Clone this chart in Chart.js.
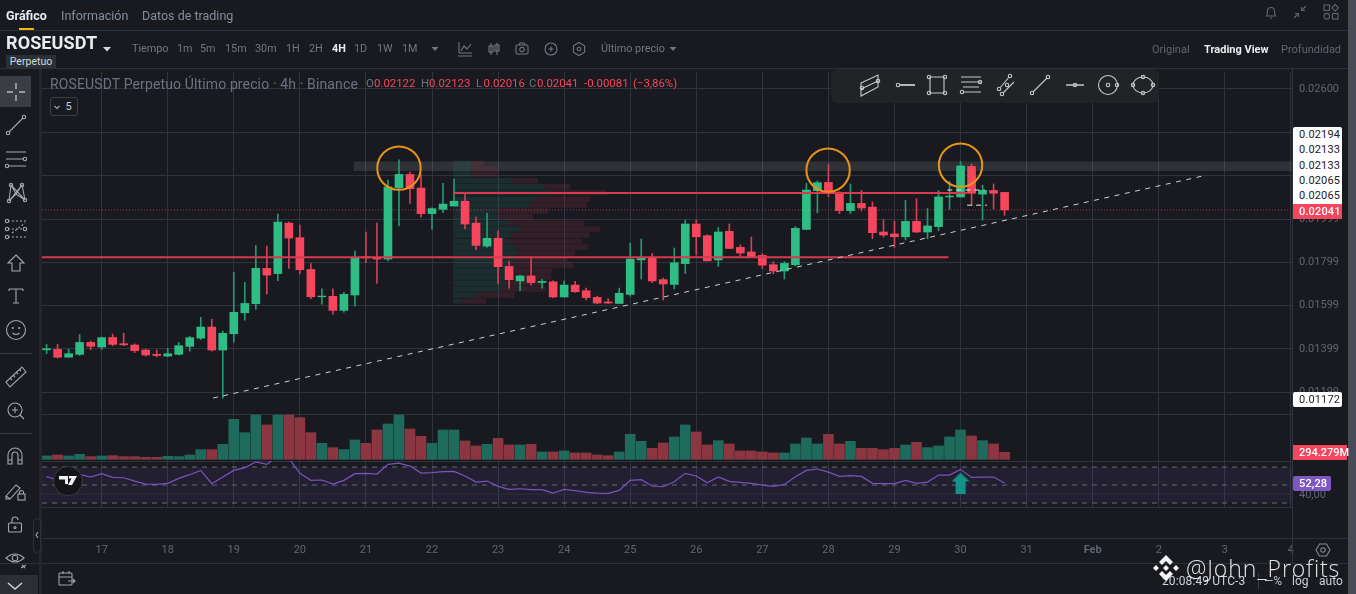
<!DOCTYPE html>
<html lang="es">
<head>
<meta charset="utf-8">
<title>ROSEUSDT</title>
<script src="https://cdn.jsdelivr.net/npm/chart.js@4"></script>
<style>
html,body{margin:0;padding:0;background:#181a20;overflow:hidden}
#page{position:relative;width:1356px;height:594px;background:#181a20;font-family:Roboto,sans-serif;overflow:hidden}
#c{position:absolute;left:0;top:0}
.t{position:absolute;white-space:nowrap;line-height:1;z-index:3}
.ln{position:absolute;background:#2b3139;z-index:2}
.box{position:absolute;z-index:4;font-size:11px;line-height:15.3px;padding-left:6px;box-sizing:border-box;white-space:nowrap;letter-spacing:.15px}
svg.i{position:absolute;z-index:5;fill:none;stroke:#a4a7ac;stroke-width:1.1;overflow:visible}
</style>
</head>
<body>
<div id="page">
<canvas id="c" width="1356" height="594"></canvas>
<div id="ui"></div>
</div>
<script>
// ---------- data ----------
const opens=[0.01395,0.01397,0.01361,0.01374,0.01429,0.01408,0.01452,0.01423,0.01417,0.01394,0.01374,0.01366,0.01374,0.01411,0.01449,0.01500,0.01394,0.01469,0.01566,0.01608,0.01771,0.01747,0.01980,0.01913,0.01766,0.01640,0.01642,0.01577,0.01648,
0.01825,0.01822,0.01814,0.02144,0.02205,0.02142,0.02024,0.02044,0.02059,0.02081,0.01980,0.01874,0.01910,0.01780,0.01713,0.01736,0.01706,0.01709,0.01639,0.01694,0.01668,0.01637,0.01616,0.01609,0.01651,0.01810,0.01820,0.01719,0.01697,0.01793,
0.01976,0.01922,0.01810,0.01942,0.01868,0.01847,0.01831,0.01788,0.01759,0.01788,0.01951,0.02130,0.02168,0.02118,0.02038,0.02071,0.02054,0.01939,0.01930,0.01917,0.01988,0.01939,0.01964,0.02101,0.02101,0.02242,0.02114,0.02131,0.02122];
const closes=[0.01400,0.01361,0.01377,0.01429,0.01411,0.01451,0.01420,0.01418,0.01391,0.01371,0.01369,0.01377,0.01414,0.01451,0.01500,0.01394,0.01471,0.01568,0.01609,0.01771,0.01740,0.01985,0.01911,0.01765,0.01640,0.01643,0.01577,0.01651,0.01819,
0.01819,0.01814,0.02147,0.02205,0.02139,0.02024,0.02047,0.02068,0.02081,0.01976,0.01877,0.01910,0.01779,0.01719,0.01736,0.01705,0.01711,0.01639,0.01694,0.01663,0.01636,0.01611,0.01611,0.01656,0.01814,0.01820,0.01713,0.01699,0.01797,0.01976,
0.01917,0.01806,0.01939,0.01863,0.01842,0.01823,0.01786,0.01759,0.01794,0.01956,0.02133,0.02167,0.02124,0.02038,0.02071,0.02050,0.01936,0.01925,0.01917,0.01988,0.01939,0.01967,0.02101,0.02105,0.02244,0.02118,0.02131,0.02118,0.02041];
const highs=[0.01420,0.01420,0.01398,0.01465,0.01435,0.01454,0.01468,0.01472,0.01422,0.01398,0.01394,0.01402,0.01429,0.01457,0.01545,0.01536,0.01482,0.01753,0.01706,0.01877,0.01874,0.02022,0.01985,0.01971,0.01793,0.01677,0.01677,0.01660,0.01851,
0.01939,0.01980,0.02179,0.02272,0.02216,0.02207,0.02051,0.02164,0.02184,0.02118,0.02008,0.02025,0.01944,0.01805,0.01740,0.01822,0.01720,0.01713,0.01713,0.01711,0.01680,0.01643,0.01631,0.01680,0.01888,0.01907,0.01840,0.01726,0.01865,0.01994,
0.01994,0.01927,0.01960,0.01976,0.01880,0.01916,0.01839,0.01802,0.01803,0.01964,0.02164,0.02175,0.02250,0.02125,0.02161,0.02131,0.02078,0.01997,0.01990,0.02085,0.02093,0.02048,0.02130,0.02173,0.02265,0.02253,0.02155,0.02161,0.02123];
const lows=[0.01377,0.01357,0.01361,0.01369,0.01395,0.01397,0.01414,0.01414,0.01382,0.01366,0.01362,0.01363,0.01371,0.01389,0.01442,0.01389,0.01172,0.01431,0.01532,0.01582,0.01653,0.01714,0.01771,0.01745,0.01631,0.01606,0.01560,0.01569,0.01597,
0.01797,0.01702,0.01806,0.01967,0.02071,0.02008,0.01951,0.02028,0.02059,0.01953,0.01856,0.01868,0.01699,0.01680,0.01668,0.01694,0.01680,0.01636,0.01639,0.01660,0.01625,0.01608,0.01608,0.01608,0.01643,0.01722,0.01705,0.01625,0.01676,0.01748,
0.01833,0.01805,0.01780,0.01863,0.01828,0.01822,0.01770,0.01746,0.01722,0.01782,0.01951,0.02027,0.02102,0.02024,0.02024,0.02037,0.01908,0.01916,0.01868,0.01902,0.01936,0.01908,0.01945,0.02045,0.02101,0.02061,0.01994,0.02045,0.02016];
const volumes=[140,182,140,210,112,140,154,112,112,84,84,126,112,182,406,406,630,1680,1120,1862,1442,1862,1862,1750,1120,672,490,406,812,672,1232,1484,1862,1274,966,672,1232,1232,770,560,630,882,602,602,630,308,308,350,266,266,182,154,308,1050,756,462,686,938,1442,1148,602,784,644,350,350,308,266,266,644,896,644,1050,644,756,462,462,406,462,602,714,490,560,938,1232,980,784,644,294.279];
const rsi=[59.3,55.6,55.6,61.9,58.9,62.6,58.5,58.1,54.4,51.1,50.7,51.9,57.4,61.5,66.3,51.5,58.9,66.3,69.3,75.6,73,81.5,79.6,63,55.2,55.6,51.1,55.2,62.6,63,62.2,73,74.4,71.1,63.3,63.7,64.8,65.2,60,53.3,54.4,48.5,45.2,45.9,44.8,44.8,41.1,45.2,43.7,41.9,41.1,40.7,44.1,55.2,55.9,48.9,48.1,53.7,63,60,52.6,58.9,54.1,53,51.9,50,48.5,50.7,59.3,66.3,67.8,64.4,59.6,60.4,59.6,51.9,51.5,51.5,55.2,51.9,53.3,61.1,61.1,67.4,58.5,58.9,58.9,52.28];
const dayLabels=['17','18','19','20','21','22','23','24','25','26','27','28','29','30','31','Feb','2','3','4'];
const dayIndex=[5,11,17,23,29,35,41,47,53,59,65,71,77,83,89,95,101,107,113];
const priceTicks=[0.026,0.02399,0.02199,0.01999,0.01799,0.01599,0.01399,0.01199];
const paneLines=[0.01094,0.00881];
const rsiLevels=[70,50,30];
const rsiMiddle=[40];
// volume profile rows
const vpPrices=[0.02256,0.02230,0.02204,0.02176,0.02148,0.02121,0.02091,0.02064,0.02036,0.02008,0.01980,0.01953,0.01925,0.01897,0.01870,0.01842,0.01814,0.01786,0.01759,0.01731,0.01703,0.01676,0.01648,0.01620];
const vpBuy=[1.67,1.67,1.67,5.30,8.17,8.78,7.42,6.96,4.09,4.09,5.0,6.06,5.30,5.09,5.51,5.75,5.75,5,5.6,5.6,4.84,4.39,2.06,0.85];
const vpSell=[1.21,2.42,2.42,2.42,2.48,5.15,5.06,5.21,4.54,3.18,6.96,7.33,7.11,6.66,6.78,5.33,4.69,5.96,3.42,3.33,3.48,4.03,3.51,2.18];
const vpStart=36.9;
// drawings
const lastPrice=0.02041;
const support=[{x:-0.42,y:0.01823},{x:81.9,y:0.01823}];
const resistance=[{x:36.9,y:0.02119},{x:83.6,y:0.02119}];
const trend=[{x:15.11,y:0.01172},{x:105.03,y:0.02198}];
const shortDashA=[{x:81.8,y:0.02133},{x:85.2,y:0.02133}];
const shortDashB=[{x:83.6,y:0.02063},{x:85.4,y:0.02063}];
const band=[{x:27.9,y:0.022425},{x:113.1,y:0.022425}];
const circles=[{x:32,y:0.02234},{x:70.97,y:0.02225},{x:83,y:0.02248}];
const arrowAt=[{x:83,y:52.2}];

// ---------- chart ----------
const UP='#2ebd85',DOWN='#f6465d',GRID='#2e343e';
const idx=opens.map((_,i)=>i);
const isUp=idx.map(i=>closes[i]>=opens[i]);
const X0=-0.418,X1=113.1;
function rows(widthOf,startOf){
  const out=[];
  vpPrices.forEach((p,k)=>{
    const a=startOf(k),b=a+widthOf[k];
    out.push({x:a,y:p},{x:b,y:p},{x:b,y:null});
  });
  return out;
}
const arrowCv=document.createElement('canvas');arrowCv.width=18;arrowCv.height=21;
(()=>{const g=arrowCv.getContext('2d');g.fillStyle='#149388';g.beginPath();
  g.moveTo(9,0);g.lineTo(18,9);g.lineTo(14,9);g.lineTo(14,21);g.lineTo(4,21);g.lineTo(4,9);g.lineTo(0,9);g.closePath();g.fill();})();

const hline=(data,color,w,dash,order,axis)=>({type:'line',data,borderColor:color,borderWidth:w,borderDash:dash||[],pointRadius:0,order,yAxisID:axis||'y',tension:0,fill:false});

new Chart(document.getElementById('c'),{
  type:'bar',
  data:{datasets:[
    {label:'Circles',type:'line',showLine:false,data:circles,pointRadius:21.7,pointBorderWidth:2,pointBorderColor:'#e8941a',pointBackgroundColor:'transparent',order:0,yAxisID:'y',clip:false},
    hline(shortDashA,'#e8e8e8',1,[5,4],1),
    hline(shortDashB,'#e8e8e8',1,[5,4],1),
    hline(trend,'#cfcfcf',1,[5,5.5],1),
    hline(support,'#d63a4e',2,null,2),
    hline(resistance,'#d63a4e',2,null,2),
    {label:'Bodies',data:idx.map(i=>({x:i,y:[opens[i],closes[i]]})),backgroundColor:idx.map(i=>isUp[i]?UP:DOWN),barThickness:8,grouped:false,order:3,yAxisID:'y',borderSkipped:false},
    {label:'Wicks',data:idx.map(i=>({x:i,y:[lows[i],highs[i]]})),backgroundColor:idx.map(i=>isUp[i]?'#249a6e':'#d2405a'),barThickness:1,grouped:false,order:4,yAxisID:'y',borderSkipped:false},
    hline([{x:X0,y:lastPrice},{x:X1,y:lastPrice}],'#a53446',1,[1,2],5),
    hline(rows(vpSell,k=>vpStart+vpBuy[k]),'rgba(150,50,65,0.22)',5.4,null,6),
    hline(rows(vpBuy,()=>vpStart),'rgba(40,125,110,0.2)',5.4,null,6),
    hline(band,'rgba(255,255,255,0.10)',9.4,null,6),
    {label:'Volume',data:idx.map(i=>({x:i,y:volumes[i]})),backgroundColor:idx.map(i=>isUp[i]?'#1e6a5d':'#8b3641'),barThickness:10,grouped:false,order:7,yAxisID:'yVol'},
    {label:'Arrow',type:'line',showLine:false,data:arrowAt,pointStyle:arrowCv,pointRadius:10,order:0,yAxisID:'yRsi'},
    {label:'RSI',type:'line',data:idx.map(i=>({x:i,y:rsi[i]})),borderColor:'#7b52be',borderWidth:1.2,pointRadius:0,tension:0,order:1,yAxisID:'yRsi',clip:{left:0,right:0,top:-389,bottom:0}},
    ...rsiLevels.map(v=>hline([{x:X0,y:v},{x:X1,y:v}],'#5d5f66',1.2,[5,5],8,'yRsi')),
    ...rsiMiddle.map(v=>hline([{x:X0,y:v},{x:X1,y:v}],'#33303c',1,null,8,'yRsi')),
    hline([{x:X0,y:50},{x:X1,y:50}],'rgba(126,87,194,0.10)',36,null,9,'yRsi')
  ]},
  options:{
    responsive:false,animation:false,events:[],devicePixelRatio:1,
    layout:{padding:{left:42,top:72,right:0,bottom:0}},
    plugins:{legend:{display:false},tooltip:{enabled:false},title:{display:false}},
    scales:{
      x:{type:'linear',offset:false,min:X0,max:X1,
        grid:{offset:false,color:GRID,drawTicks:false,lineWidth:1},border:{color:GRID},
        afterBuildTicks:s=>{s.ticks=dayIndex.map(v=>({value:v}));},
        afterFit:s=>{s.height=87;},
        ticks:{autoSkip:false,maxRotation:0,padding:37,color:'#5e6673',
          font:c=>({family:'Roboto',size:11,weight:(dayLabels[c.index]==='Feb')?'700':'400'}),
          callback:(v,i)=>dayLabels[i]}
      },
      y:{type:'linear',position:'right',min:0.00669,max:0.02678,
        grid:{color:GRID,drawTicks:false},border:{color:'#2f343d'},
        afterBuildTicks:s=>{s.ticks=priceTicks.concat(paneLines).map(v=>({value:v}));},
        afterFit:s=>{s.width=64;},
        ticks:{autoSkip:false,padding:7,color:'#5e6673',font:{family:'Roboto',size:11},
          callback:(v)=>priceTicks.includes(v)?v.toFixed(5):''}
      },
      yVol:{type:'linear',display:false,min:-2003,max:16267},
      yRsi:{type:'linear',display:false,min:25.6,max:508.9}
    }
  }
});

// ---------- interface chrome (real text) ----------
const ui=document.getElementById('ui');
function T(x,cy,s,size,color,extra){
  const d=document.createElement('div');d.className='t';d.textContent=s;
  d.style.cssText=`left:${x}px;top:${cy-size/2}px;font-size:${size}px;color:${color};${extra||''}`;
  ui.appendChild(d);return d;
}
function L(x,y,w,h,c){const d=document.createElement('div');d.className='ln';d.style.cssText=`left:${x}px;top:${y}px;width:${w}px;height:${h}px;${c?'background:'+c+';':''}`;ui.appendChild(d);}
function B(x,y,w,h,bg,z){const d=document.createElement('div');d.style.cssText=`position:absolute;left:${x}px;top:${y}px;width:${w}px;height:${h}px;background:${bg};z-index:${z||2}`;ui.appendChild(d);return d;}
function I(cx,cy,inner,attrs){
  const ns='http://www.w3.org/2000/svg';
  const s=document.createElementNS(ns,'svg');s.setAttribute('class','i');s.setAttribute('width','24');s.setAttribute('height','24');s.setAttribute('viewBox','-12 -12 24 24');
  s.style.left=(cx-12)+'px';s.style.top=(cy-12)+'px';if(attrs)s.style.cssText+=attrs;s.innerHTML=inner;ui.appendChild(s);
}
const WH='#eaecef';
L(0,30,1348,1);L(0,68,1348,1);L(42,538,1306,1);L(0,563,1348,1);L(1292,68,1,495,'#2f343d');
B(39,69,3,525,'#24262c');B(1348,0,8,594,'#474c57');
// top tabs
T(6,16,'Gráfico',12.5,WH,'font-weight:700');
T(61,16,'Información',12.5,'#848e9c');
T(142,16,'Datos de trading',12.5,'#848e9c');
B(19,28,15,2,'#f0b90b');
// symbol row
T(6,43,'ROSEUSDT',18,WH,'font-weight:700;letter-spacing:.1px');
I(107,49,'<path d="M-4-2h8l-4 4.4z" fill="#d5d8dc" stroke="none"/>');
const ivs=[['Tiempo',132],['1m',177],['5m',200],['15m',225],['30m',255],['1H',286],['2H',309],['4H',332],['1D',354],['1W',377],['1M',402]];
ivs.forEach(([s,x])=>T(x,49,s,10.8,s==='4H'?WH:'#6f7784',s==='4H'?'font-weight:700':''));
I(435,49,'<path d="M-3.5-2h7l-3.5 4z" fill="#6f7784" stroke="none"/>');
const st='stroke:#6f7784;';
I(465,49,'<path d="M-6-7v11M-6 4H7M-7 7H7M-4 2l3-5 3 3 4-5"/>',st);
I(494,49,'<path d="M-3-6v12M3-6v12"/><rect x="-5" y="-3" width="4" height="6"/><rect x="1" y="-4" width="4" height="6"/>',st);
I(522,49,'<rect x="-6" y="-4" width="12" height="9" rx="1.5"/><circle r="2.2" cy=".5"/><path d="M-3-4l1-2h4l1 2"/>',st);
I(551,49,'<circle r="6"/><path d="M-2.5 0h5M0-2.5v5"/>',st);
I(579,49,'<path d="M0-6.5l5.6 3.2v6.6L0 6.5l-5.6-3.2v-6.6z"/><circle r="1.8"/>',st);
T(601,49,'Último precio',10.8,'#6f7784');
I(673,49,'<path d="M-3.5-2h7l-3.5 4z" fill="#6f7784" stroke="none"/>');
T(1152,49,'Original',11,'#5e6673');
T(1204,49,'Trading View',11,WH,'font-weight:700');
T(1281,49,'Profundidad',11,'#5e6673');
// top right icons
const st2='stroke:#5f6570;';
I(1271,12,'<path d="M-4.5 4c1-1.5 1-3 1-5a3.5 3.5 0 0 1 7 0c0 2 0 3.5 1 5zM-1 6h2"/>',st2);
I(1300,12,'<path d="M-6 6L-1.5 1.5M-1.5 5V1.5H-5M6-6L1.5-1.5M1.5-5v3.5H5"/>',st2);
I(1331,12,'<rect x="-7" y="-7" width="5.5" height="5.5"/><rect x="1.5" y="1.5" width="5.5" height="5.5"/><circle cx="-4.2" cy="4.2" r="2.8"/><path d="M4.2-7.5l3.3 3.3-3.3 3.3-3.3-3.3z"/>',st2);
// Perpetuo tag
const tag=B(6,55,50,14,'#2b2f36',3);tag.textContent='Perpetuo';
tag.style.cssText+='color:#d5d8dc;font-size:10.5px;line-height:14px;text-align:center';
// chart legend
T(50,84,'ROSEUSDT Perpetuo Último precio · 4h · Binance',14,'#6b7280','letter-spacing:.13px');
[['O',366,'0.02122',374],['H',421,'0.02123',429],['L',476,'0.02016',483.5],['C',529,'0.02041',537]].forEach(([a,ax,b,bx])=>{
  T(ax,84,a,11.4,'#6b7280');T(bx,84,b,11.4,'#f6465d');
});
T(584,84,'-0.00081',11.4,'#f6465d');
T(633,84,'(−3,86%)',11.4,'#f6465d');
// fold box
const fold=document.createElement('div');fold.className='t';
fold.style.cssText='left:50px;top:97px;width:28px;height:19px;border:1px solid #3b3f46;border-radius:3px;box-sizing:border-box;color:#c9ccd1;font-size:11px;line-height:17px;text-align:center;padding-left:9px;background:#181a20';
fold.textContent='5';ui.appendChild(fold);
I(57,106.5,'<path d="M-2.5-1l2.5 2.5L2.5-1"/>');
// left toolbar
B(0,76,31,31,'#3a3d42',3);
I(16,92,'<path d="M-9 0h6M3 0h6M0-9v6M0 3v6" stroke="#b8bbc0" stroke-width="1.4"/>');
const cc=(x,y)=>`<circle cx="${x}" cy="${y}" r="1.7"/>`;
I(16,125,'<path d="M-7 7L7-7"/>'+cc(-8,8)+cc(8,-8));
I(16,159,'<path d="M-10-7H10M-10 0H8M-8 7H10"/>'+cc(9,0)+cc(-9,7));
I(16,193,'<path d="M-7 8L-5-8 0 1 6-8 9 7M-7 8L6-8M-5-8L9 7M-7 8 0 1 9 7"/>'+cc(-7,8)+cc(-5,-8)+cc(6,-8)+cc(9,7));
I(16,229,'<path d="M-8-8H10M-8 0H8M-8 8H10M-4 4L9-6" stroke-dasharray="2 2"/>'+cc(-9,-8)+cc(-9,0)+cc(-9,8)+cc(9,0));
I(16,263,'<path d="M0-8L8 0H4V8H-4V0H-8Z"/>');
I(16,296,'<path d="M-7-7H7M0-7V7M-3 7H3M-7-7v2M7-7v2"/>');
I(16,330,'<circle r="9.5"/><circle cx="-3.2" cy="-2" r=".5"/><circle cx="3.2" cy="-2" r=".5"/><path d="M-3.5 3q3.5 3 7 0"/>');
L(0,353,32,1,'#3a3d42');
I(16,377,'<path d="M-10 5L6-10 10-5-6 10Z M-6 1l2 2M-3-2l2 2M0-5l2 2M3-8l2 2"/>');
I(15,410,'<circle r="7"/><path d="M5 5l4 4M-3 0H3M0-3V3"/>');
L(0,433,32,1,'#3a3d42');
I(15,456,'<path d="M-7 8V-1a7 7 0 0 1 14 0V8H3V-1a3 3 0 0 0-6 0V8ZM-7 4h4M3 4h4"/>');
I(15,490,'<path d="M-9 6L1-5l4 3L-5 9ZM-9 6V9H-5"/><rect x="3" y="4" width="7" height="6"/><path d="M4.5 4V2.5a2 2 0 0 1 4 0V4"/>');
I(15,525,'<rect x="-6.5" y="-2" width="13" height="9" rx="1"/><path d="M-3-2V-5A3 3 0 0 1 3-5"/><circle cy="2.5" r="1"/>');
I(15,558,'<path d="M-9 0Q0-8 9 0Q0 8-9 0Z"/><circle r="2.8"/><path d="M6 10l5-3M7 7l3 3"/>');
B(0,575,38,19,'#2b2e35',3);
I(15,586,'<path d="M-7-3L0 3 7-3" stroke-width="1.5" stroke="#d0d3d8"/>');
const handle=B(33,518,8,35,'#181a20',4);handle.style.border='1px solid #2b3139';handle.style.borderRadius='4px';handle.style.boxSizing='border-box';
I(37,535,'<path d="M1-3L-1 0 1 3"/>');
// floating drawing toolbar
const ft=B(831,69,328,34,'#222326',4);ft.style.borderRadius='6px';
const st3='stroke:#c6c8cc;';
I(840,85,'<path d="M-2.5-4h.1M2-4h.1M-2.5 0h.1M2 0h.1M-2.5 4h.1M2 4h.1" stroke-width="1.6"/>','stroke:#555860;');
I(870,85,'<path d="M-9-2L8-10V2L-9 11ZM-9 4L8-4"/>'+cc(-8,3)+cc(8,-4),st3);
I(905,85,'<path d="M-5 0H10" stroke-width="1.8"/>'+cc(-7,0),st3);
I(937,85,'<path d="M-7-8H7V8H-7Z"/>'+cc(-8,-8)+cc(8,-8)+cc(-8,8)+cc(8,8),st3);
I(971,85,'<path d="M-10-8H10M-10-3H10M-8 2H8M-8 7H10" />'+cc(9,-3)+cc(-9,7),st3);
I(1007,85,'<path d="M-7 3L2-8M-4 8L7-3"/>'+cc(3,-9)+cc(-8,4)+cc(-5,9)+cc(0,0),st3);
I(1040,85,'<path d="M-7 7L7-7"/>'+cc(8,-8)+cc(-8,8),st3);
I(1075,85,'<path d="M-9 0H9" stroke-width="1.5"/>'+cc(0,0),st3);
I(1108,85,'<circle r="9.5"/><circle r="1.7"/>'+cc(9,0),st3);
I(1143,85,'<ellipse rx="10" ry="8"/>'+cc(0,-8)+cc(0,8)+cc(-10,0)+cc(10,0),st3);
// right axis labels
const white=document.createElement('div');white.className='box';
white.style.cssText='left:1293px;top:127px;width:49px;height:77px;background:#fff;color:#1e2026;border-radius:2px 2px 0 0;';
white.innerHTML=['0.02194','0.02133','0.02133','0.02065','0.02065'].join('<br>');ui.appendChild(white);
const rd=document.createElement('div');rd.className='box';rd.textContent='0.02041';
rd.style.cssText='left:1293px;top:203.5px;width:49px;height:15.3px;background:#f6465d;color:#fff;font-weight:500;';ui.appendChild(rd);
const w2=document.createElement('div');w2.className='box';w2.textContent='0.01172';
w2.style.cssText='left:1293px;top:391.7px;width:49px;height:15.3px;background:#fff;color:#1e2026;border-radius:2px;';ui.appendChild(w2);
T(1299,494,'40,00',11,'#5e6673','z-index:3');
const v=document.createElement('div');v.className='box';v.textContent='294.279M';
v.style.cssText='left:1293px;top:445px;width:54px;height:15px;background:#f6465d;color:#fff;padding-left:6px;font-weight:500;letter-spacing:0;';ui.appendChild(v);
const r2=document.createElement('div');r2.className='box';r2.textContent='52,28';
r2.style.cssText='left:1293px;top:475.7px;width:38px;height:15px;background:#7e57c2;color:#fff;padding-left:6px;border-radius:2px;font-weight:500;';ui.appendChild(r2);
// TV badge
const tv=B(53,466,30,30,'#141519',6);tv.style.borderRadius='50%';tv.style.border='1px solid #3a3c42';tv.style.boxSizing='border-box';
I(68,481,'<path d="M-9-5H0V3H-3V-1.5H-9ZM1-5H9L4 4H0L3.5-2.5H1Z" fill="#f0f0f0" stroke="none"/>','z-index:7;');
// hexagon settings
I(1323,550,'<path d="M-3.5-6H3.5L7 0 3.5 6H-3.5L-7 0Z"/><circle r="2.2"/>','stroke:#858a94;');
// date button
I(66,579,'<rect x="-7" y="-6" width="13" height="12" rx="1"/><path d="M-7-2H6M-3-8v3M3-8v3M2 2H9M7 0l2 2-2 2"/>','stroke:#9da1a8;');
// bottom status
T(1162,581,'20:08:49 UTC-3',12,'#d0d3d8','z-index:6;letter-spacing:.1px');
L(1258,573,1,16,'#3a3d42');
T(1264,581,'—%',12,'#c0c3c8','z-index:6');
T(1292,581,'log',12,'#c9d0d8','z-index:6');
T(1319,581,'auto',12,'#c9d0d8','z-index:6');
// watermark
T(1186,568,'@John_Profits',23,'rgba(255,255,255,.88)','z-index:7;letter-spacing:.9px;font-family:"Open Sans",sans-serif;font-weight:300');
I(1166,568,'<path d="M0-13L7-6 4-3 0-7-4-3-7-6ZM0 13L7 6 4 3 0 7-4 3-7 6ZM-13 0L-10-3-7 0-10 3ZM13 0L10-3 7 0 10 3ZM0-3L3 0 0 3-3 0Z" fill="#f4f4f4" stroke="none"/>','z-index:7;');
</script>
</body>
</html>
